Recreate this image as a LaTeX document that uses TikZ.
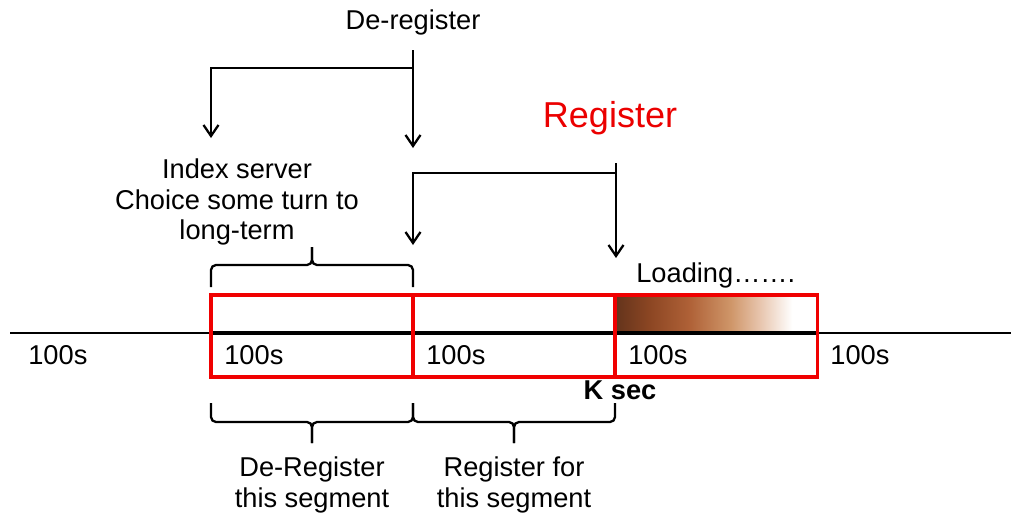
\documentclass[tikz,border=0pt]{standalone}
\usepackage{fontspec}
\setmainfont{Liberation Sans}
\usetikzlibrary{arrows.meta}
\definecolor{segred}{RGB}{240,0,0}
\definecolor{regred}{RGB}{235,0,0}
\definecolor{loadA}{RGB}{100,52,28}
\definecolor{loadB}{RGB}{140,70,35}
\definecolor{loadC}{RGB}{175,97,55}
\definecolor{loadD}{RGB}{207,150,105}
\definecolor{loadE}{RGB}{232,198,175}
% brown-to-white fade for the segment being loaded
\pgfdeclarehorizontalshading{loadfade}{100bp}{color(0bp)=(loadA); color(25bp)=(loadA);
  color(33.5bp)=(loadB); color(43.5bp)=(loadC); color(54bp)=(loadD);
  color(61.5bp)=(loadE); color(69.5bp)=(white); color(100bp)=(white)}
\begin{document}
\begin{tikzpicture}[x=0.02cm,y=-0.02cm,
  lbl/.style={font=\fontsize{15.5}{17.5}\selectfont, inner sep=0pt, align=center},
  seclbl/.style={lbl, anchor=west},
  reglbl/.style={font=\fontsize{20.5}{22}\selectfont, text=regred, inner sep=0pt},
  segbox/.style={draw=segred, line width=2.1pt, minimum width=4.04cm,
                 minimum height=1.64cm, inner sep=0pt, outer sep=0pt},
  arr/.style={line width=1.3pt, -{Straight Barb[length=2.2mm,width=3mm,line width=1.3pt]}},
  bracepath/.style={line width=1.3pt, rounded corners=0.1cm}]
\useasboundingbox (0,0) rectangle (1011,515);

% gradient of the segment being loaded
\shade[shading=loadfade] (616,297) rectangle (814,332);

% time axis
\draw[line width=1.2pt] (10,333) -- (1011,333);
\draw[line width=2.4pt] (211,333) -- (818,333);

% segments
\node[segbox] (s1) at (312,336) {};
\node[segbox] (s2) at (514,336) {};
\node[segbox] (s3) at (716.5,336) {};

% segment lengths
\node[seclbl] (t0) at (28,355) {100s};
\node[seclbl] (t1) at (224,355) {100s};
\node[seclbl] (t2) at (426,355) {100s};
\node[seclbl] (t3) at (628,355) {100s};
\node[seclbl] (t4) at (830,355) {100s};
\node[lbl, font=\fontsize{15.5}{17.5}\selectfont\bfseries] (ksec) at (620,390) {K sec};
\node[lbl, anchor=west] (load) at (636,275) {Loading…….};

% headings
\node[lbl] (dereg) at (413,22) {De-register};
\node[reglbl] (reg) at (610,118) {Register};
\node[lbl] (index) at (237,202) {Index server\\Choice some turn to\\long-term};

% de-register arrows
\coordinate (d0) at (413,50);
\coordinate (dj) at (413,68);
\coordinate (dA) at (211,138);
\coordinate (dB) at (413,148);
\draw[arr] (d0) -- (dB);
\draw[arr] (dj) -| (dA);

% register arrows
\coordinate (r0) at (616,163);
\coordinate (rj) at (616,173);
\coordinate (rA) at (413,245);
\coordinate (rB) at (616,258);
\draw[arr] (r0) -- (rB);
\draw[arr] (rj) -| (rA);

% brace over the first segment
\draw[bracepath] (211,287) -- (211,265) -- (312,265) -- (312,247);
\draw[bracepath] (413,287) -- (413,265) -- (312,265) -- (312,247);

% braces under the first two segments
\draw[bracepath] (211,403) -- (211,422) -- (312,422) -- (312,443);
\draw[bracepath] (413,403) -- (413,422) -- (312,422) -- (312,443);
\draw[bracepath] (413,403) -- (413,422) -- (514,422) -- (514,443);
\draw[bracepath] (615,403) -- (615,422) -- (514,422) -- (514,443);

\node[lbl] (deseg) at (312,485) {De-Register\\this segment};
\node[lbl] (reseg) at (514,485) {Register for\\this segment};
\end{tikzpicture}
\end{document}
